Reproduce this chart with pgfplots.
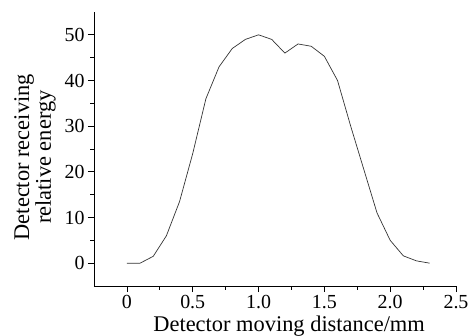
\documentclass[border=0pt]{standalone}
\usepackage{fontspec}
\setmainfont{Liberation Serif}
\usepackage{pgfplots}
\pgfplotsset{compat=1.18}
\begin{document}
\begin{tikzpicture}
\begin{axis}[
  scale only axis,
  width=362bp, height=274bp,
  xmin=-0.25, xmax=2.5,
  ymin=-5, ymax=55,
  axis x line=bottom, axis y line=left,
  axis line style={-, line width=0.8pt},
  tick align=outside,
  major tick length=6bp, minor tick length=3.5bp,
  tick style={line width=0.7pt, black},
  xtick={0,0.5,1.0,1.5,2.0,2.5},
  xticklabels={0,0.5,1.0,1.5,2.0,2.5},
  ytick={0,10,20,30,40,50},
  minor x tick num=1, minor y tick num=1,
  /pgf/number format/assume math mode=true,
  tick label style={font=\fontsize{20}{20}\selectfont},
  label style={font=\fontsize{22.5}{22}\selectfont},
  xlabel={Detector moving distance/mm},
  ylabel={Detector receiving\\relative energy},
  ylabel style={align=center, at={([xshift=-59bp]axis description cs:0,0.47)}, anchor=center},
  xlabel style={at={([yshift=-40bp]axis description cs:0.539,0)}, anchor=center},
]
\addplot[black!80, line width=0.7pt] coordinates {
(0,0) (0.1,0) (0.2,1.5) (0.3,6) (0.4,13.5) (0.5,24) (0.6,36) (0.7,43) (0.8,47) (0.9,49) (1.0,50) (1.1,49) (1.2,46) (1.3,48) (1.4,47.5) (1.5,45.3) (1.6,40) (1.7,30) (1.8,20.5) (1.9,11) (2.0,5) (2.1,1.6) (2.2,0.5) (2.3,0)
};
\coordinate (sw) at (rel axis cs:0,0);
\coordinate (ne) at (rel axis cs:1,1);
\end{axis}
\pgfresetboundingbox
\path ([shift={(-94bp,-50bp)}]sw) rectangle ([shift={(17bp,12bp)}]ne);
\end{tikzpicture}
\end{document}
